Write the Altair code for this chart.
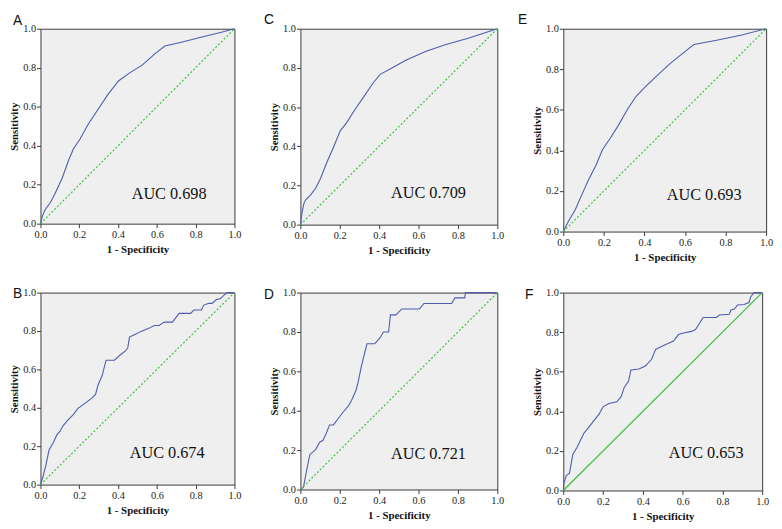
import altair as alt
import pandas as pd

# ---- data (1 - specificity, sensitivity) ----
a_fpr = [0, 0.01, 0.022, 0.052, 0.072, 0.111, 0.145, 0.17, 0.204, 0.246, 0.279, 0.347, 0.402, 0.456, 0.524, 0.591, 0.641, 0.726, 0.827, 0.928, 1.0]
a_tpr = [0, 0.039, 0.069, 0.11, 0.148, 0.232, 0.325, 0.384, 0.434, 0.51, 0.56, 0.662, 0.732, 0.771, 0.813, 0.872, 0.911, 0.931, 0.956, 0.981, 1.0]

c_fpr = [0, 0.008, 0.018, 0.027, 0.052, 0.077, 0.102, 0.135, 0.168, 0.202, 0.235, 0.277, 0.318, 0.368, 0.405, 0.46, 0.535, 0.635, 0.735, 0.852, 1.0]
c_tpr = [0, 0.06, 0.11, 0.127, 0.152, 0.186, 0.236, 0.32, 0.395, 0.479, 0.521, 0.588, 0.647, 0.722, 0.767, 0.797, 0.839, 0.884, 0.918, 0.951, 1.0]

e_fpr = [0, 0.026, 0.059, 0.091, 0.124, 0.161, 0.193, 0.229, 0.27, 0.319, 0.359, 0.405, 0.457, 0.522, 0.587, 0.644, 0.75, 0.88, 1.0]
e_tpr = [0, 0.052, 0.108, 0.181, 0.254, 0.327, 0.403, 0.456, 0.521, 0.607, 0.667, 0.715, 0.764, 0.824, 0.877, 0.922, 0.942, 0.969, 1.0]

b_fpr = [0, 0.014, 0.027, 0.044, 0.065, 0.085, 0.1, 0.116, 0.142, 0.168, 0.193, 0.227, 0.262, 0.284, 0.296, 0.318, 0.338,
         0.381, 0.415, 0.438, 0.45, 0.459, 0.484, 0.518, 0.561, 0.586, 0.612, 0.638, 0.68, 0.715, 0.774, 0.791, 0.829,
         0.842, 0.868, 0.885, 0.903, 0.928, 0.945, 0.962, 1.0]
b_tpr = [0, 0.046, 0.097, 0.18, 0.217, 0.26, 0.277, 0.306, 0.337, 0.363, 0.397, 0.422, 0.448, 0.47, 0.516, 0.568, 0.648,
         0.648, 0.679, 0.696, 0.713, 0.768, 0.781, 0.798, 0.815, 0.829, 0.829, 0.846, 0.846, 0.892, 0.892, 0.909, 0.909,
         0.935, 0.944, 0.944, 0.961, 0.969, 0.986, 1.0, 1.0]

d_fpr = [0, 0.015, 0.032, 0.048, 0.077, 0.098, 0.115, 0.132, 0.148, 0.168, 0.193, 0.218, 0.243, 0.26, 0.282, 0.293, 0.31,
         0.338, 0.377, 0.402, 0.422, 0.448, 0.457, 0.485, 0.515, 0.605, 0.627, 0.768, 0.785, 0.835, 0.838, 1.0]
d_tpr = [0, 0.01, 0.10, 0.178, 0.203, 0.24, 0.25, 0.287, 0.328, 0.328, 0.362, 0.395, 0.423, 0.453, 0.503, 0.545, 0.628,
         0.74, 0.74, 0.767, 0.8, 0.8, 0.887, 0.887, 0.917, 0.917, 0.945, 0.945, 0.973, 0.973, 1.0, 1.0]

f_fpr = [0, 0.002, 0.015, 0.031, 0.048, 0.068, 0.084, 0.104, 0.125, 0.15, 0.18, 0.2, 0.229, 0.269, 0.29, 0.307, 0.328,
         0.34, 0.381, 0.414, 0.444, 0.464, 0.488, 0.515, 0.554, 0.579, 0.604, 0.645, 0.665, 0.703, 0.769, 0.785, 0.835,
         0.843, 0.86, 0.876, 0.909, 0.934, 0.942, 0.959, 1.0]
f_tpr = [0, 0.033, 0.075, 0.088, 0.182, 0.216, 0.249, 0.29, 0.315, 0.348, 0.386, 0.423, 0.44, 0.448, 0.473, 0.522, 0.552,
         0.609, 0.614, 0.63, 0.663, 0.713, 0.725, 0.738, 0.755, 0.788, 0.796, 0.804, 0.813, 0.874, 0.874, 0.887, 0.891,
         0.912, 0.917, 0.937, 0.94, 0.95, 0.978, 1.0, 1.0]

panel_letters = ["A", "C", "E", "B", "D", "F"]
auc_labels = ["AUC 0.698", "AUC 0.709", "AUC 0.693", "AUC 0.674", "AUC 0.721", "AUC 0.653"]
curves = [(a_fpr, a_tpr), (c_fpr, c_tpr), (e_fpr, e_tpr), (b_fpr, b_tpr), (d_fpr, d_tpr), (f_fpr, f_tpr)]
diag_vals = [0.0, 1.0]
tick_vals = [0.0, 0.2, 0.4, 0.6, 0.8, 1.0]

# ---- styles (sizes / offsets in pixels) ----
sizes = [(197, 198), (200, 199), (206, 206), (197, 195), (200, 200), (202, 201)]
auc_pos = [(0.47, 0.85), (0.46, 0.84), (0.51, 0.82), (0.46, 0.835), (0.46, 0.82), (0.53, 0.81)]
letter_pos = [(-28, -15), (-37, -16), (-46, -16), (-28, -6), (-37, -5), (-39, -5)]
solid_diag = [False, False, False, False, False, True]

CURVE = "#4f5db0"
GREEN = "#3fbf3f"


def panel(i):
    fpr, tpr = curves[i]
    w, h = sizes[i]
    df = pd.DataFrame({"fpr": fpr, "tpr": tpr, "order": list(range(len(fpr)))})
    x = alt.X("fpr:Q", scale=alt.Scale(domain=[0, 1], nice=False, zero=False),
              axis=alt.Axis(values=tick_vals, format=".1f", title="1 - Specificity",
                            labelOverlap=False, labelFlush=False))
    y = alt.Y("tpr:Q", scale=alt.Scale(domain=[0, 1], nice=False, zero=False),
              axis=alt.Axis(values=tick_vals, format=".1f", title="Sensitivity",
                            labelOverlap=False, labelFlush=False))
    curve = alt.Chart(df).mark_line(stroke=CURVE, strokeWidth=1.1).encode(x=x, y=y, order="order:Q")
    dkw = dict(stroke=GREEN, strokeWidth=1.2, opacity=1)
    if not solid_diag[i]:
        dkw["strokeDash"] = [2, 2]
    ddf = pd.DataFrame({"fpr": [diag_vals[0]], "tpr": [diag_vals[0]],
                        "fpr2": [diag_vals[1]], "tpr2": [diag_vals[1]]})
    diag = alt.Chart(ddf).mark_rule(**dkw).encode(x=x, y=y, x2="fpr2:Q", y2="tpr2:Q")
    fx, fy = auc_pos[i]
    auc = alt.Chart(pd.DataFrame({"t": [auc_labels[i]]})).mark_text(
        align="left", baseline="middle", font="Liberation Serif", fontSize=16.5, color="#111"
    ).encode(text="t:N", x=alt.value(fx * w), y=alt.value(fy * h))
    lx, ly = letter_pos[i]
    letter = alt.Chart(pd.DataFrame({"t": [panel_letters[i]]})).mark_text(
        align="left", baseline="top", font="Liberation Sans", fontSize=14, color="#111"
    ).encode(text="t:N", x=alt.value(lx), y=alt.value(ly))
    return alt.layer(curve, diag, auc, letter).properties(width=w, height=h)


chart = alt.concat(
    *[panel(i) for i in range(6)],
    columns=3,
    spacing={"row": 62, "column": 67},
    bounds="flush",
    align="each",
).properties(
    padding={"left": 0, "top": 0, "right": 0, "bottom": 0}
).configure_view(
    fill="#efefef", stroke="#3a3a3a", strokeWidth=1
).configure_axis(
    domain=False, grid=False, tickColor="#3a3a3a", tickSize=4,
    labelFont="Liberation Serif", labelFontSize=10.5, labelColor="#222",
    titleFont="Liberation Serif", titleFontWeight="bold", titleFontSize=11, titleColor="#111",
).configure_axisX(labelPadding=2, titlePadding=4).configure_axisY(labelPadding=1, titlePadding=3)

chart.save("out.html", embed_options={"renderer": "svg", "actions": False})
